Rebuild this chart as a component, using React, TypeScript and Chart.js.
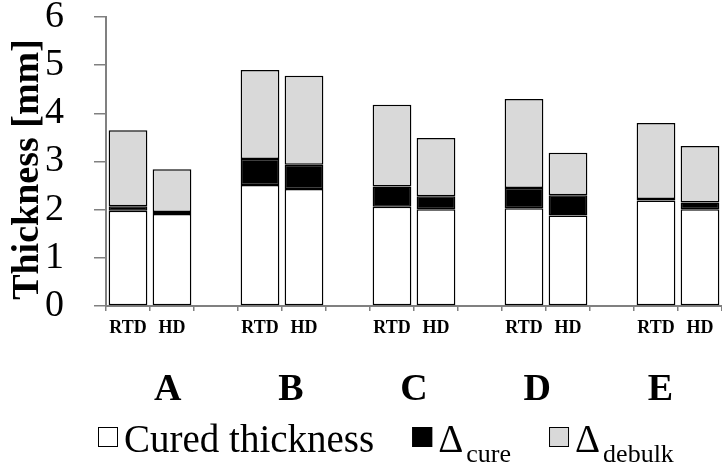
import React, { useEffect, useRef } from 'react';
import { Chart, registerables } from 'chart.js';

Chart.register(...registerables);

const SERIF = '"Liberation Serif", "Times New Roman", Times, serif';

// category labels (blank = spacer between groups)
const categories = ['RTD', 'HD', '', 'RTD', 'HD', '', 'RTD', 'HD', '', 'RTD', 'HD', '', 'RTD', 'HD'];
const groups = ['A', 'B', 'C', 'D', 'E'];

// series values (mm)
const curedThickness = [1.98, 1.91, null, 2.51, 2.43, null, 2.06, 2.01, null, 2.03, 1.88, null, 2.19, 2.01];
const deltaCure = [0.09, 0.04, null, 0.54, 0.5, null, 0.42, 0.27, null, 0.42, 0.42, null, 0.03, 0.14];
const deltaDebulk = [1.58, 0.89, null, 1.85, 1.85, null, 1.7, 1.21, null, 1.85, 0.88, null, 1.58, 1.17];

const yTicks = [0, 1, 2, 3, 4, 5, 6];
const yTitle = 'Thickness [mm]';

const legendItems = [
  { fill: '#ffffff', main: 'Cured thickness', sub: '' },
  { fill: '#000000', main: 'Δ', sub: 'cure' },
  { fill: '#d9d9d9', main: 'Δ', sub: 'debulk' },
];

const overlayPlugin = {
  id: 'overlay',
  afterDraw(chart: any) {
    const { ctx, chartArea } = chart;
    ctx.save();
    // y-axis title
    ctx.save();
    ctx.translate(38, (chartArea.top + chartArea.bottom) / 2 + 8);
    ctx.rotate(-Math.PI / 2);
    ctx.fillStyle = '#000';
    ctx.font = `bold 38px ${SERIF}`;
    ctx.textAlign = 'center';
    ctx.textBaseline = 'alphabetic';
    ctx.fillText(yTitle, 0, 0);
    ctx.restore();
    // group letters
    ctx.fillStyle = '#000';
    ctx.font = `bold 38px ${SERIF}`;
    ctx.textAlign = 'center';
    ctx.textBaseline = 'alphabetic';
    const w = chartArea.right - chartArea.left;
    groups.forEach((g, i) => {
      ctx.fillText(g, chartArea.left + ((i + 0.5) / groups.length) * w, 400);
    });
    // legend
    ctx.textAlign = 'left';
    let x = 98;
    const boxTop = 427;
    const base = 452;
    legendItems.forEach((item) => {
      ctx.fillStyle = item.fill;
      ctx.fillRect(x, boxTop, 20, 20);
      ctx.strokeStyle = '#000';
      ctx.lineWidth = 1;
      ctx.strokeRect(x + 0.5, boxTop + 0.5, 19, 19);
      x += 26;
      ctx.fillStyle = '#000';
      ctx.font = `39px ${SERIF}`;
      ctx.fillText(item.main, x, base);
      x += ctx.measureText(item.main).width;
      if (item.sub) {
        x += 3;
        ctx.font = `26px ${SERIF}`;
        ctx.fillText(item.sub, x, base + 10);
        x += ctx.measureText(item.sub).width;
      }
      x += 38;
    });
    ctx.restore();
  },
};

export default function App() {
  const ref = useRef<HTMLCanvasElement>(null);
  useEffect(() => {
    if (!ref.current) return;
    const barCommon = {
      borderColor: '#000',
      borderWidth: 1.5,
      borderSkipped: false,
      barPercentage: 0.88,
      categoryPercentage: 1,
    };
    const chart = new Chart(ref.current, {
      type: 'bar',
      data: {
        labels: categories,
        datasets: [
          { label: 'Cured thickness', data: curedThickness, backgroundColor: '#ffffff', ...barCommon },
          { label: 'Δcure', data: deltaCure, backgroundColor: '#000000', ...barCommon },
          { label: 'Δdebulk', data: deltaDebulk, backgroundColor: '#d9d9d9', ...barCommon },
        ] as any,
      },
      options: {
        animation: false,
        responsive: false,
        maintainAspectRatio: false,
        devicePixelRatio: 1,
        layout: { padding: { top: 17, left: 0, right: 0, bottom: 0 } },
        plugins: { legend: { display: false }, tooltip: { enabled: false } },
        scales: {
          x: {
            stacked: true,
            offset: true,
            grid: {
              display: true,
              drawOnChartArea: false,
              drawTicks: true,
              tickLength: 5,
              color: '#808080',
              lineWidth: 1.5,
              offset: true,
            },
            border: { color: '#808080', width: 2 },
            ticks: {
              font: { family: SERIF, size: 18, weight: 'bold' },
              color: '#000',
              padding: 7,
              maxRotation: 0,
              autoSkip: false,
            },
            afterFit: (s: any) => {
              s.height = 160;
              s.paddingLeft = 0;
              s.paddingRight = 0;
            },
          },
          y: {
            stacked: true,
            min: 0,
            max: 6,
            afterBuildTicks: (s: any) => {
              s.ticks = yTicks.map((v) => ({ value: v }));
            },
            ticks: {
              stepSize: 1,
              autoSkip: false,
              font: { family: SERIF, size: 38 },
              color: '#000',
              padding: 30,
            },
            grid: {
              drawOnChartArea: false,
              tickLength: 12,
              color: '#808080',
              lineWidth: 1.5,
            },
            border: { color: '#808080', width: 2 },
            title: { display: false },
            afterFit: (s: any) => {
              s.width = 106;
              s.paddingTop = 0;
              s.paddingBottom = 0;
            },
          },
        },
      } as any,
      plugins: [overlayPlugin],
    });
    return () => chart.destroy();
  }, []);
  return (
    <div style={{ position: 'absolute', left: 0, top: 0, width: 722, height: 466, background: '#fff' }}>
      <canvas ref={ref} width={722} height={466} style={{ display: 'block', width: 722, height: 466 }} />
    </div>
  );
}
